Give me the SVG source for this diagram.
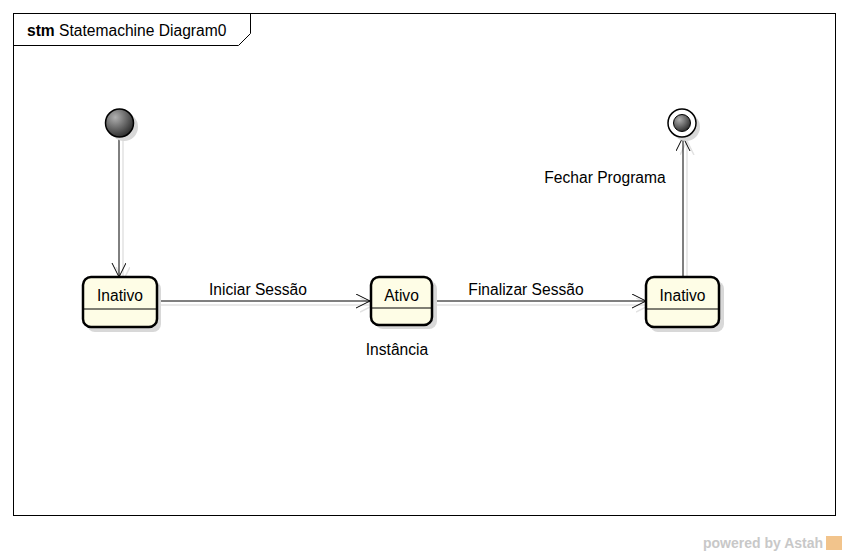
<svg xmlns="http://www.w3.org/2000/svg" width="848" height="556" viewBox="0 0 848 556">
<style>
text{font-family:"Liberation Sans",Arial,sans-serif;font-size:15.6px;fill:#000}
.state{fill:#fefde6;stroke:#000;stroke-width:2.5}
.shadow{fill:#d8d8d8;stroke:none}
.div{stroke:#000;stroke-width:1}
.edge{stroke:#000;stroke-width:1;fill:none}
.eshadow{stroke:#e2e2e2;stroke-width:1.5;fill:none}
</style>
<defs>
<marker id="arr" markerWidth="20" markerHeight="20" refX="14" refY="7" orient="auto" markerUnits="userSpaceOnUse">
<path d="M0,0 L14,7 L0,14" fill="none" stroke="#000" stroke-width="1"/>
</marker>
<marker id="arrs" markerWidth="20" markerHeight="20" refX="14" refY="7" orient="auto" markerUnits="userSpaceOnUse">
<path d="M0,0 L14,7 L0,14" fill="none" stroke="#e2e2e2" stroke-width="1.5"/>
</marker>
<radialGradient id="ball" cx="0.35" cy="0.3" r="0.8">
<stop offset="0" stop-color="#b0b0b0"/>
<stop offset="1" stop-color="#202020"/>
</radialGradient>
</defs>
<rect x="0" y="0" width="848" height="556" fill="#fff"/>
<g id="frame">
<rect x="13.5" y="13.5" width="822" height="502" fill="none" stroke="#000" stroke-width="1"/>
<path d="M13.5,45.5 H238.5 L250.5,33.5 V13.5" fill="none" stroke="#000" stroke-width="1"/>
<text x="27" y="36"><tspan font-weight="bold">stm</tspan> Statemachine Diagram0</text>
</g>
<g id="connectors">
<line class="eshadow" x1="123" y1="140" x2="123" y2="281" marker-end="url(#arrs)"/>
<line class="edge" x1="119" y1="137" x2="119" y2="277" marker-end="url(#arr)"/>
<line class="eshadow" x1="159" y1="305" x2="374" y2="305" marker-end="url(#arrs)"/>
<line class="edge" x1="157" y1="301" x2="370" y2="301" marker-end="url(#arr)"/>
<text x="258" y="295" text-anchor="middle">Iniciar Sessão</text>
<line class="eshadow" x1="434" y1="305" x2="650" y2="305" marker-end="url(#arrs)"/>
<line class="edge" x1="432" y1="301" x2="646" y2="301" marker-end="url(#arr)"/>
<text x="526" y="295" text-anchor="middle">Finalizar Sessão</text>
<line class="eshadow" x1="687" y1="281" x2="687" y2="141" marker-end="url(#arrs)"/>
<line class="edge" x1="683" y1="277" x2="683" y2="137" marker-end="url(#arr)"/>
<text x="605" y="183" text-anchor="middle">Fechar Programa</text>
</g>
<g id="initial">
<circle cx="124" cy="127" r="14" class="shadow"/>
<circle cx="119.5" cy="123" r="14" fill="url(#ball)" stroke="#000" stroke-width="1.5"/>
</g>
<g id="inativo1">
<rect x="87" y="281" width="74" height="51" rx="8" class="shadow"/>
<rect x="83" y="277" width="74" height="50" rx="8" class="state"/>
<line class="div" x1="83" y1="309" x2="157" y2="309"/>
<text x="120" y="301" text-anchor="middle">Inativo</text>
</g>
<g id="ativo">
<rect x="375" y="281" width="62" height="48" rx="8" class="shadow"/>
<rect x="371" y="277" width="61" height="48" rx="8" class="state"/>
<line class="div" x1="371" y1="308" x2="432" y2="308"/>
<text x="401.5" y="301" text-anchor="middle">Ativo</text>
<text x="397" y="355" text-anchor="middle">Instância</text>
</g>
<g id="inativo2">
<rect x="650" y="281" width="74" height="51" rx="8" class="shadow"/>
<rect x="646" y="277" width="73" height="50" rx="8" class="state"/>
<line class="div" x1="646" y1="309" x2="719" y2="309"/>
<text x="682.5" y="301" text-anchor="middle">Inativo</text>
</g>
<g id="final">
<circle cx="686" cy="127" r="14" class="shadow"/>
<circle cx="682" cy="123" r="14" fill="#fff" stroke="#000" stroke-width="1.5"/>
<circle cx="682" cy="123" r="8.5" fill="url(#ball)" stroke="#000" stroke-width="1"/>
</g>
<g id="watermark">
<text x="703" y="548" style="font-size:14px;font-weight:bold;fill:#c8c8c8">powered by Astah</text>
<rect x="826" y="536" width="16" height="14" fill="#f2c48c"/>
</g>
</svg>
